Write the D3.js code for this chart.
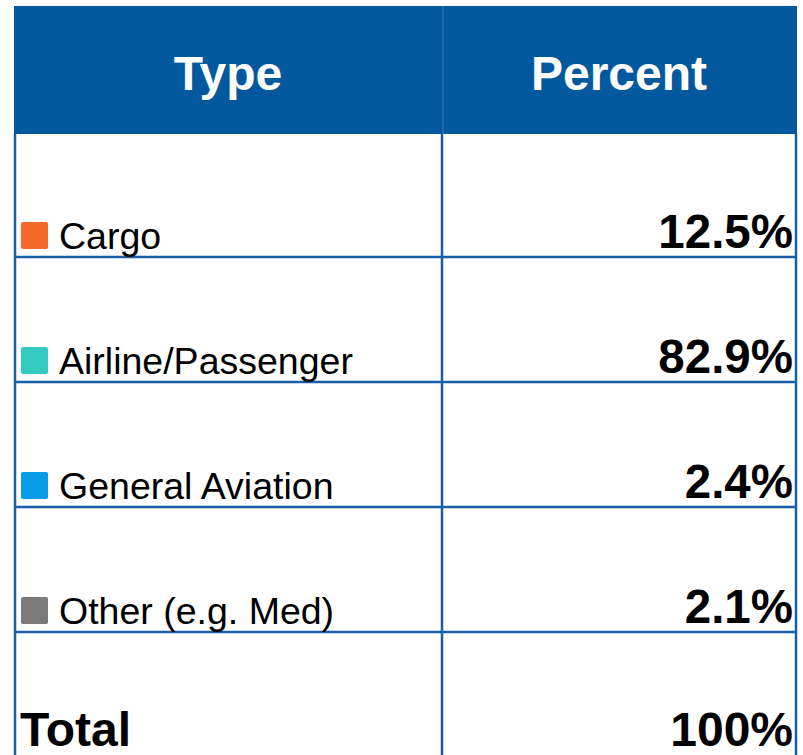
<!DOCTYPE html>
<html>
<head>
<meta charset="utf-8">
<script src="https://cdn.jsdelivr.net/npm/d3@7"></script>
<style>
  body { margin: 0; background: #fff; }
  svg { display: block; font-family: "Liberation Sans", Arial, sans-serif; }
</style>
</head>
<body>
<div id="chart"></div>
<script>
var headers = ["Type", "Percent"];
var categories = ["Cargo", "Airline/Passenger", "General Aviation", "Other (e.g. Med)"];
var percents = [12.5, 82.9, 2.4, 2.1];
var colors = ["#f4692a", "#33cbc0", "#079ce6", "#7a7a7a"];
var totalLabel = "Total";
var totalValue = 100;

var width = 803,
    height = 755,
    left = 14,
    right = 796,
    mid = 442,
    headTop = 6,
    headBottom = 134,
    lineColor = "#1a5ea8";

var svg = d3.select("#chart")
    .append("svg")
      .attr("width", width)
      .attr("height", height);

var rows = categories.concat([totalLabel]);

var y = d3.scaleBand()
    .domain(rows)
    .range([132, 757]);

var col = d3.scaleOrdinal()
    .domain(headers)
    .range([(left + mid) / 2, (mid + right) / 2]);

var fmt = function(v) { return v === totalValue ? v + "%" : d3.format(".1f")(v) + "%"; };

// header
svg.append("rect")
    .attr("x", left)
    .attr("y", headTop)
    .attr("width", right - left + 1)
    .attr("height", headBottom - headTop)
    .style("fill", "#03589e");

svg.append("line")
    .attr("x1", mid + 1).attr("x2", mid + 1)
    .attr("y1", headTop).attr("y2", headBottom)
    .style("stroke", "#3f78b4")
    .style("stroke-width", 1);

svg.selectAll(".head")
    .data(headers)
    .enter()
    .append("text")
      .attr("x", function(d) { return col(d); })
      .attr("y", 90)
      .attr("text-anchor", "middle")
      .style("font-size", "48px")
      .style("font-weight", "bold")
      .style("fill", "#fff")
      .text(function(d) { return d; });

// grid lines
svg.selectAll(".hline")
    .data(categories)
    .enter()
    .append("line")
      .attr("x1", left)
      .attr("x2", right + 1)
      .attr("y1", function(d) { return y(d) + y.bandwidth(); })
      .attr("y2", function(d) { return y(d) + y.bandwidth(); })
      .style("stroke", lineColor)
      .style("stroke-width", 2.5);

svg.selectAll(".vline")
    .data([left + 1, mid, right])
    .enter()
    .append("line")
      .attr("x1", function(d) { return d; })
      .attr("x2", function(d) { return d; })
      .attr("y1", headBottom)
      .attr("y2", height)
      .style("stroke", lineColor)
      .style("stroke-width", 2.5);

// rows
var data = categories.map(function(c, i) { return {name: c, value: percents[i], color: colors[i]}; });

var row = svg.selectAll(".row")
    .data(data)
    .enter()
    .append("g")
      .attr("transform", function(d) { return "translate(0," + (y(d.name) + y.bandwidth()) + ")"; });

row.append("rect")
    .attr("x", 21)
    .attr("y", -35)
    .attr("width", 27)
    .attr("height", 27)
    .attr("rx", 2)
    .style("fill", function(d) { return d.color; });

row.append("text")
    .attr("x", 59)
    .attr("y", -8)
    .style("font-size", "37.5px")
    .style("fill", "#000")
    .text(function(d) { return d.name; });

row.append("text")
    .attr("x", 793)
    .attr("y", -9)
    .attr("text-anchor", "end")
    .style("font-size", "47.5px")
    .style("font-weight", "bold")
    .style("fill", "#000")
    .text(function(d) { return fmt(d.value); });

// total
svg.append("text")
    .attr("x", 20)
    .attr("y", 746)
    .style("font-size", "48px")
    .style("font-weight", "bold")
    .text(totalLabel);

svg.append("text")
    .attr("x", 793)
    .attr("y", 746)
    .attr("text-anchor", "end")
    .style("font-size", "48px")
    .style("font-weight", "bold")
    .text(fmt(totalValue));
</script>
</body>
</html>
